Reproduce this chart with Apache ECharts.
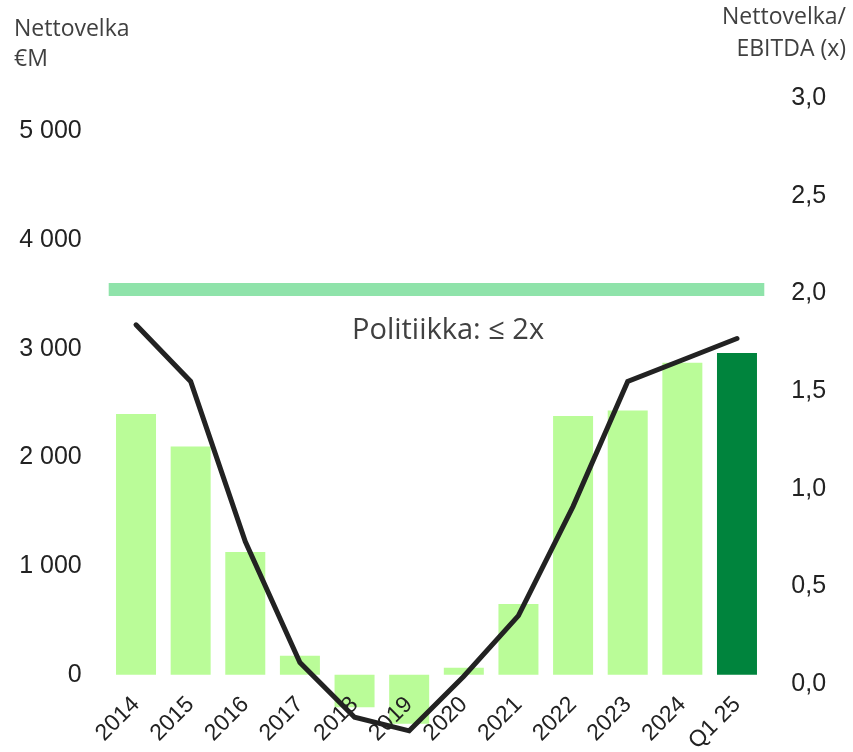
<!DOCTYPE html>
<html>
<head>
<meta charset="utf-8">
<script src="https://cdn.jsdelivr.net/npm/echarts@6/dist/echarts.min.js"></script>
<style>
  html, body { margin: 0; padding: 0; background: #fff; }
  #chart { width: 853px; height: 752px; }
</style>
</head>
<body>
<div id="chart"></div>
<script>
// vuodet / kvartaali
const categories = ['2014', '2015', '2016', '2017', '2018', '2019', '2020', '2021', '2022', '2023', '2024', 'Q1 25'];
// nettovelka, €M (pylväät, vasen akseli)
const netDebt = [2400, 2100, 1130, 175, -300, -450, 65, 650, 2380, 2430, 2870, 2960];
// nettovelka / EBITDA (viiva, oikea akseli)
const leverage = [1.84, 1.55, 0.73, 0.11, -0.17, -0.24, 0.04, 0.35, 0.91, 1.55, 1.66, 1.77];
// akselien näkyvät arvot
const leftTicks = [0, 1000, 2000, 3000, 4000, 5000];
const rightTicks = [0, 0.5, 1, 1.5, 2, 2.5, 3];
// politiikkaraja
const policyLimit = 2.02;

const labelFont = '"Liberation Sans", Arial, sans-serif';
const textFont = '"Open Sans", "Noto Sans", sans-serif';

const chart = echarts.init(document.getElementById('chart'));

// viimeisin kvartaali tummemmalla vihreällä
const barData = netDebt.map((v, i) => ({
    value: v,
    itemStyle: { color: i === netDebt.length - 1 ? '#00843D' : '#BAFC98' }
}));

const option = {
    animation: false,
    backgroundColor: '#ffffff',
    // gridin alareuna = oikean akselin nolla, negatiiviset arvot piirretään sen alle (clip: false)
    grid: {
        left: 108.7, right: 88.7, top: 76.9, bottom: 68,
        containLabel: false,
        outerBoundsMode: 'none'
    },
    graphic: [
        {
            type: 'text', left: 14, top: 14,
            style: { text: 'Nettovelka\n€M', font: '23px ' + textFont, fill: '#404040', lineHeight: 30 }
        },
        {
            type: 'text', right: 7, top: 6,
            style: { text: 'Nettovelka/', font: '23px ' + textFont, fill: '#404040' }
        },
        {
            type: 'text', right: 7, top: 38,
            style: { text: 'EBITDA (x)', font: '23px ' + textFont, fill: '#404040' }
        },
        {
            type: 'text', left: 352, top: 316,
            style: { text: 'Politiikka: ≤ 2x', font: '29px ' + textFont, fill: '#404040' }
        }
    ],
    xAxis: {
        type: 'category',
        data: categories,
        z: 3,
        axisLine: { show: false },
        axisTick: { show: false },
        axisLabel: {
            interval: 0,
            rotate: 45,
            margin: 17,
            fontSize: 23,
            fontFamily: labelFont,
            color: '#222222'
        }
    },
    yAxis: [
        {
            type: 'value',
            min: -85,
            max: 5500,
            splitLine: { show: false },
            axisLine: { show: false },
            axisTick: { show: false },
            axisLabel: {
                customValues: leftTicks,
                margin: 27,
                fontSize: 25,
                fontFamily: labelFont,
                color: '#222222',
                formatter: (v) => String(v).replace(/\B(?=(\d{3})+(?!\d))/g, ' ')
            }
        },
        {
            type: 'value',
            min: 0,
            max: 3.110,
            splitLine: { show: false },
            axisLine: { show: false },
            axisTick: { show: false },
            axisLabel: {
                customValues: rightTicks,
                margin: 27,
                fontSize: 25,
                fontFamily: labelFont,
                color: '#222222',
                formatter: (v) => v.toFixed(1).replace('.', ',')
            }
        }
    ],
    series: [
        {
            name: 'Nettovelka',
            type: 'bar',
            yAxisIndex: 0,
            barWidth: 40,
            clip: false,
            data: barData,
            z: 2
        },
        {
            name: 'Nettovelka/EBITDA',
            type: 'line',
            yAxisIndex: 1,
            data: leverage,
            symbol: 'none',
            clip: false,
            lineStyle: { color: '#222222', width: 5, cap: 'round', join: 'miter' },
            z: 4,
            markLine: {
                silent: true,
                symbol: 'none',
                label: { show: false },
                lineStyle: { color: '#8FE3AA', width: 13, type: 'solid' },
                data: [{ yAxis: policyLimit }],
                z: 1
            }
        }
    ]
};

chart.setOption(option);
</script>
</body>
</html>
